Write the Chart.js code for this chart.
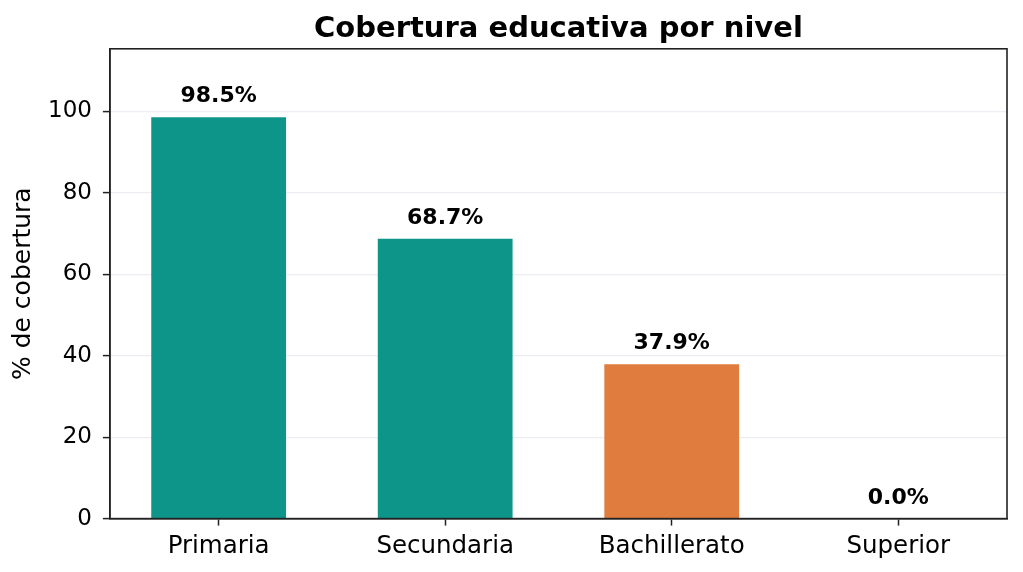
<!DOCTYPE html>
<html>
<head>
<meta charset="utf-8">
<script src="https://cdn.jsdelivr.net/npm/chart.js@4/dist/chart.umd.min.js"></script>
<style>
html,body{margin:0;padding:0;background:#fff;}
#wrap{width:1023px;height:572px;}
</style>
</head>
<body>
<div id="wrap"><canvas id="c" width="1023" height="572"></canvas></div>
<script>
const categories = ['Primaria', 'Secundaria', 'Bachillerato', 'Superior'];
const coverage = [98.5, 68.7, 37.9, 0.0];
const barColors = ['#0e958a', '#0e958a', '#e07c3d', '#0e958a'];
const xPositions = [0, 1, 2, 3];
const yTicks = [0, 20, 40, 60, 80, 100];

Chart.defaults.font.family = "'DejaVu Sans', sans-serif";
Chart.defaults.color = '#000';

const framePlugin = {
  id: 'frame',
  afterDraw(chart) {
    const {ctx, chartArea: a} = chart;
    ctx.save();
    ctx.strokeStyle = '#222';
    ctx.lineWidth = 1.6;
    ctx.strokeRect(a.left, a.top, a.right - a.left, a.bottom - a.top);
    ctx.restore();
  }
};

const valueLabels = {
  id: 'valueLabels',
  afterDatasetsDraw(chart) {
    const ctx = chart.ctx;
    const meta = chart.getDatasetMeta(0);
    ctx.save();
    ctx.font = "bold 22px 'DejaVu Sans', sans-serif";
    ctx.fillStyle = '#000';
    ctx.textAlign = 'center';
    ctx.textBaseline = 'alphabetic';
    meta.data.forEach((bar, i) => {
      ctx.fillText(coverage[i].toFixed(1) + '%', bar.x, bar.y - 15);
    });
    ctx.restore();
  }
};

new Chart(document.getElementById('c'), {
  type: 'bar',
  data: {
    datasets: [{
      data: xPositions.map((x, i) => ({x: x, y: coverage[i]})),
      backgroundColor: barColors,
      borderWidth: 0,
      barPercentage: 0.595,
      categoryPercentage: 1.0
    }]
  },
  options: {
    responsive: false,
    animation: false,
    layout: {padding: {left: 10.5, right: 16, top: 0, bottom: 5}},
    plugins: {
      legend: {display: false},
      tooltip: {enabled: false},
      title: {
        display: true,
        text: 'Cobertura educativa por nivel',
        fullSize: false,
        color: '#000',
        font: {size: 29, weight: 'bold'},
        padding: {top: 12, bottom: 2}
      }
    },
    scales: {
      x: {
        type: 'linear',
        min: -0.48,
        max: 3.48,
        offset: false,
        z: 1,
        afterBuildTicks: s => { s.ticks = xPositions.map(v => ({value: v})); },
        ticks: {
          callback: v => categories[v],
          font: {size: 24.5},
          color: '#000',
          padding: 6,
          autoSkip: false,
          maxRotation: 0
        },
        grid: {offset: false, drawOnChartArea: false, drawTicks: true, tickLength: 7, tickColor: '#222', tickWidth: 1.5},
        border: {color: '#222', width: 1.6}
      },
      y: {
        min: 0,
        max: 115.3,
        z: 1,
        afterBuildTicks: s => { s.ticks = yTicks.map(v => ({value: v})); },
        ticks: {font: {size: 23}, color: '#000', padding: 11},
        grid: {color: 'rgba(176,186,204,0.25)', lineWidth: 1.2, tickLength: 7, tickColor: '#222', tickWidth: 1.5},
        border: {color: '#222', width: 1.6},
        title: {
          display: true,
          text: '% de cobertura',
          color: '#000',
          font: {size: 25, lineHeight: 1.06},
          padding: {top: 0, bottom: 0}
        }
      }
    }
  },
  plugins: [framePlugin, valueLabels]
});
</script>
</body>
</html>
